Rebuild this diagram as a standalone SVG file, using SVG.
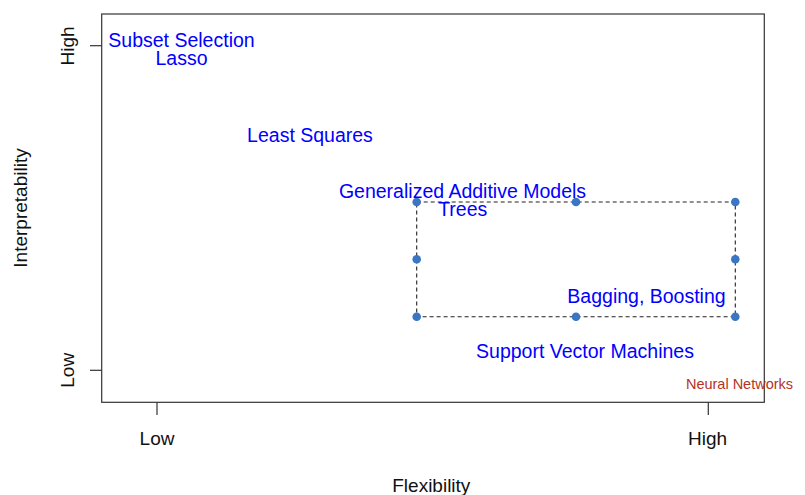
<svg xmlns="http://www.w3.org/2000/svg" width="805" height="495" viewBox="0 0 805 495">
<style>
.ax{stroke:#333;stroke-width:1.2;fill:none}
.tl{font-family:"Liberation Sans",Arial,sans-serif;font-size:19px;fill:#111;text-anchor:middle}
.lb{font-family:"Liberation Sans",Arial,sans-serif;font-size:19.5px;fill:#0000ff;text-anchor:middle}
.nn{font-family:"Liberation Sans",Arial,sans-serif;font-size:14.5px;fill:#b5331f;text-anchor:middle}
.pt{fill:#3b76c4}
</style>
<rect width="805" height="495" fill="#fff"/>
<g id="axes">
<rect class="ax" x="101.7" y="14" width="662.6" height="388.3"/>
<line class="ax" x1="90" y1="45.7" x2="101.7" y2="45.7"/>
<line class="ax" x1="90" y1="370.3" x2="101.7" y2="370.3"/>
<line class="ax" x1="157" y1="402.3" x2="157" y2="415"/>
<line class="ax" x1="708.3" y1="402.3" x2="708.3" y2="415"/>
<text class="tl" transform="translate(73.5,46) rotate(-90)">High</text>
<text class="tl" transform="translate(73.5,370.3) rotate(-90)">Low</text>
<text class="tl" x="157" y="445">Low</text>
<text class="tl" x="707.5" y="445">High</text>
<text class="tl" x="431.3" y="491.7">Flexibility</text>
<text class="tl" transform="translate(27,208) rotate(-90)">Interpretability</text>
</g>
<g id="connectors">
<rect x="416.7" y="202" width="318.6" height="114.7" fill="none" stroke="#222" stroke-width="1.1" stroke-dasharray="4,3"/>
</g>
<g id="points">
<circle class="pt" cx="416.7" cy="202" r="4.3"/>
<circle class="pt" cx="576" cy="202" r="4.3"/>
<circle class="pt" cx="735.3" cy="202" r="4.3"/>
<circle class="pt" cx="416.7" cy="259.3" r="4.3"/>
<circle class="pt" cx="735.3" cy="259.3" r="4.3"/>
<circle class="pt" cx="416.7" cy="316.7" r="4.3"/>
<circle class="pt" cx="576" cy="316.7" r="4.3"/>
<circle class="pt" cx="735.3" cy="316.7" r="4.3"/>
</g>
<g id="n-subset"><text class="lb" x="181.5" y="47.3">Subset Selection</text></g>
<g id="n-lasso"><text class="lb" x="181.5" y="65">Lasso</text></g>
<g id="n-ls"><text class="lb" x="310" y="142.3">Least Squares</text></g>
<g id="n-gam"><text class="lb" x="462.5" y="198.3">Generalized Additive Models</text></g>
<g id="n-trees"><text class="lb" x="462.7" y="215.7">Trees</text></g>
<g id="n-bag"><text class="lb" x="646.5" y="303.3">Bagging, Boosting</text></g>
<g id="n-svm"><text class="lb" x="585" y="358.3">Support Vector Machines</text></g>
<g id="n-nn"><text class="nn" x="739.5" y="389.3">Neural Networks</text></g>
</svg>
